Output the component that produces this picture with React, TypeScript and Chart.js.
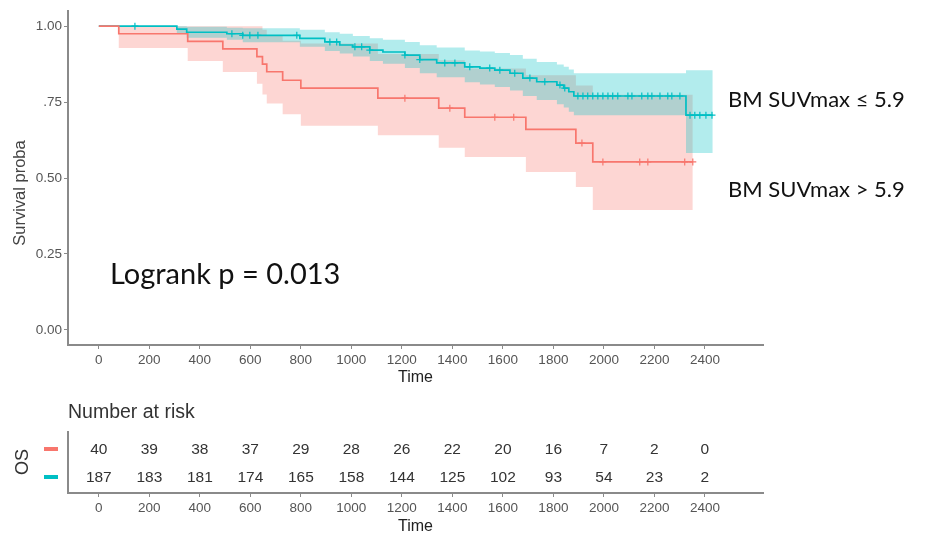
import React, { useEffect, useRef } from "react";
import { Chart, registerables } from "chart.js";
Chart.register(...registerables);

// ---------- data ----------
const xTicks = [0, 200, 400, 600, 800, 1000, 1200, 1400, 1600, 1800, 2000, 2200, 2400];
const yTickValues = [0, 0.25, 0.5, 0.75, 1];
const yTickLabels = ["0.00", "0.25", "0.50", ".75", "1.00"];

// BM SUVmax > 5.9 (red)
const redTimes = [0, 79, 352, 491, 626, 648, 665, 728, 800, 1105, 1346, 1449, 1691, 1889, 1956, 2352];
const redSurv = [1, 0.975, 0.95, 0.925, 0.9, 0.875, 0.85, 0.822, 0.796, 0.763, 0.73, 0.7, 0.66, 0.615, 0.553, 0.553];
const redLower = [1, 0.928, 0.885, 0.849, 0.81, 0.775, 0.745, 0.71, 0.672, 0.641, 0.6, 0.569, 0.52, 0.47, 0.395, 0.395];
const redUpper = [1, 1, 1, 1, 1, 0.988, 0.97, 0.952, 0.943, 0.908, 0.888, 0.861, 0.838, 0.805, 0.774, 0.774];
const redCensor = [1212, 1390, 1568, 1643, 1913, 1996, 2142, 2174, 2320, 2352];

// BM SUVmax <= 5.9 (cyan)
const cyanTimes = [0, 309, 348, 507, 570, 796, 895, 954, 1006, 1073, 1125, 1212, 1271, 1338, 1449, 1509, 1568, 1628, 1679, 1734, 1814, 1841, 1861, 1881, 2325, 2431];
const cyanSurv = [1, 0.99, 0.98, 0.975, 0.97, 0.96, 0.948, 0.938, 0.932, 0.921, 0.915, 0.905, 0.89, 0.879, 0.866, 0.862, 0.855, 0.845, 0.829, 0.817, 0.806, 0.796, 0.784, 0.77, 0.707, 0.707];
const cyanLower = [1, 0.975, 0.962, 0.955, 0.947, 0.932, 0.918, 0.91, 0.9, 0.885, 0.876, 0.862, 0.845, 0.832, 0.815, 0.808, 0.8, 0.788, 0.77, 0.757, 0.743, 0.732, 0.718, 0.707, 0.582, 0.582];
const cyanUpper = [1, 1, 0.998, 0.995, 0.993, 0.988, 0.98, 0.975, 0.968, 0.96, 0.955, 0.948, 0.937, 0.93, 0.92, 0.917, 0.912, 0.905, 0.893, 0.882, 0.874, 0.866, 0.857, 0.845, 0.855, 0.855];
const cyanCensor = [143, 527, 570, 598, 630, 784, 915, 942, 1014, 1041, 1073, 1212, 1271, 1370, 1410, 1469, 1548, 1588, 1647, 1707, 1766, 1826, 1845, 1897, 1917, 1936, 1956, 1976, 1996, 2016, 2035, 2055, 2095, 2111, 2150, 2174, 2190, 2222, 2253, 2269, 2301, 2341, 2360, 2380, 2404, 2428];

// Number at risk
const riskTimes = [0, 200, 400, 600, 800, 1000, 1200, 1400, 1600, 1800, 2000, 2200, 2400];
const redRisk = [40, 39, 38, 37, 29, 28, 26, 22, 20, 16, 7, 2, 0];
const cyanRisk = [187, 183, 181, 174, 165, 158, 144, 125, 102, 93, 54, 23, 2];

// ---------- style ----------
const RED = "#F8766D";
const CYAN = "#00BFC4";
const RED_FILL = "rgba(248,118,109,0.3)";
const CYAN_FILL = "rgba(0,191,196,0.3)";
const AXIS = "#8a8a8a";
const SANS = "'Liberation Sans', Arial, Helvetica, sans-serif";
const TICK_COLOR = "#555";
const ANNOT = "Lato, 'Open Sans', sans-serif";

const pts = (ts: number[], vs: number[]) => ts.map((t, i) => ({ x: t, y: vs[i] }));
const stepValueAt = (ts: number[], vs: number[], t: number) => {
  let v = vs[0];
  for (let i = 0; i < ts.length; i++) if (ts[i] <= t) v = vs[i];
  return v;
};

const xScaleBase = (height: number, titlePadBottom: number) => ({
  type: "linear" as const,
  min: -122,
  max: 2630,
  afterBuildTicks: (s: any) => {
    s.ticks = xTicks.map((v) => ({ value: v }));
  },
  afterFit: (s: any) => {
    s.height = height;
  },
  grid: { drawOnChartArea: false, drawTicks: true, tickLength: 4, color: AXIS, lineWidth: 1 },
  border: { display: true, color: AXIS, width: 2 },
  ticks: {
    font: { family: SANS, size: 13.5 },
    color: TICK_COLOR,
    padding: 3,
    maxRotation: 0,
    autoSkip: false,
    callback: (v: any) => String(v),
  },
  title: { display: true, text: "Time", font: { family: SANS, size: 16 }, color: "#222", padding: { top: 0, bottom: titlePadBottom } },
});

export default function App() {
  const topRef = useRef<HTMLCanvasElement>(null);
  const botRef = useRef<HTMLCanvasElement>(null);

  useEffect(() => {
    const line = (data: any, color: string) => ({
      data,
      borderColor: color,
      borderWidth: 1.7,
      stepped: true,
      pointRadius: 0,
      fill: false,
    });
    const band = (data: any, fill: any, bg: string) => ({
      data,
      borderWidth: 0,
      borderColor: "rgba(0,0,0,0)",
      stepped: true,
      pointRadius: 0,
      fill,
      backgroundColor: bg,
    });
    const censor = (times: number[], ts: number[], vs: number[], color: string) => ({
      data: times.map((t) => ({ x: t, y: stepValueAt(ts, vs, t) })),
      showLine: false,
      pointStyle: "cross",
      pointRadius: 3.5,
      pointBorderWidth: 1.2,
      pointBorderColor: color,
      borderColor: color,
      fill: false,
    });

    const top = new Chart(topRef.current as HTMLCanvasElement, {
      type: "line",
      data: {
        datasets: [
          line(pts(redTimes, redSurv), RED),
          line(pts(cyanTimes, cyanSurv), CYAN),
          censor(redCensor, redTimes, redSurv, RED),
          censor(cyanCensor, cyanTimes, cyanSurv, CYAN),
          band(pts(cyanTimes, cyanLower), false, CYAN_FILL),
          band(pts(cyanTimes, cyanUpper), "-1", CYAN_FILL),
          band(pts(redTimes, redLower), false, RED_FILL),
          band(pts(redTimes, redUpper), "-1", RED_FILL),
        ] as any,
      },
      options: {
        animation: false,
        responsive: false,
        maintainAspectRatio: false,
        events: [],
        layout: { padding: { left: 0, top: 11, right: 937 - 763, bottom: 0 } },
        plugins: { legend: { display: false }, tooltip: { enabled: false } },
        scales: {
          x: xScaleBase(45, 3) as any,
          y: {
            type: "linear",
            min: -0.05,
            max: 1.05,
            afterBuildTicks: (s: any) => {
              s.ticks = yTickValues.map((v) => ({ value: v }));
            },
            afterFit: (s: any) => {
              s.width = 68;
            },
            grid: { drawOnChartArea: false, drawTicks: true, tickLength: 4, color: AXIS, lineWidth: 1 },
            border: { display: true, color: AXIS, width: 2 },
            ticks: {
              font: { family: SANS, size: 13.5 },
              color: TICK_COLOR,
              padding: 2,
              callback: (v: any) => {
                const i = yTickValues.indexOf(Number(v));
                return i >= 0 ? yTickLabels[i] : "";
              },
            },
            title: { display: false },
          },
        },
      } as any,
    });

    const riskPlugin = {
      id: "riskText",
      afterDatasetsDraw(chart: any) {
        const ctx = chart.ctx;
        ctx.save();
        ctx.font = `15.5px ${SANS}`;
        ctx.textAlign = "center";
        ctx.textBaseline = "middle";
        chart.data.datasets.forEach((ds: any, di: number) => {
          const meta = chart.getDatasetMeta(di);
          ctx.fillStyle = "#333";
          meta.data.forEach((el: any, i: number) => {
            ctx.fillText(String(ds.data[i].n), el.x, el.y);
          });
          // legend dash for the row
          const yPix = chart.scales.y.getPixelForValue(ds.data[0].y);
          ctx.fillStyle = ds.rowColor;
          ctx.fillRect(44, yPix - 3, 14, 4);
        });
        ctx.restore();
      },
    };

    const bot = new Chart(botRef.current as HTMLCanvasElement, {
      type: "scatter",
      data: {
        datasets: [
          { data: riskTimes.map((t, i) => ({ x: t, y: 2, n: redRisk[i] })), pointRadius: 0, rowColor: RED },
          { data: riskTimes.map((t, i) => ({ x: t, y: 1, n: cyanRisk[i] })), pointRadius: 0, rowColor: CYAN },
        ] as any,
      },
      plugins: [riskPlugin],
      options: {
        animation: false,
        responsive: false,
        maintainAspectRatio: false,
        events: [],
        layout: { padding: { left: 0, top: 42, right: 937 - 763, bottom: 0 } },
        plugins: { legend: { display: false }, tooltip: { enabled: false } },
        scales: {
          x: xScaleBase(47, 4) as any,
          y: {
            type: "linear",
            min: 0.464,
            max: 2.643,
            afterFit: (s: any) => {
              s.width = 68;
            },
            grid: { display: true, drawOnChartArea: false, drawTicks: false },
            border: { display: true, color: AXIS, width: 2 },
            ticks: { display: false },
          },
        },
      } as any,
    });

    return () => {
      top.destroy();
      bot.destroy();
    };
  }, []);

  const label = (text: string, left: number, cy: number, style: any) => (
    <div
      style={{
        position: "absolute",
        left,
        top: cy,
        transform: "translateY(-50%)",
        whiteSpace: "nowrap",
        lineHeight: 1,
        ...style,
      }}
    >
      {text}
    </div>
  );

  const rotated = (text: string, cx: number, cy: number, style: any) => (
    <div
      style={{
        position: "absolute",
        left: cx,
        top: cy,
        transform: "translate(-50%, -50%) rotate(-90deg)",
        whiteSpace: "nowrap",
        lineHeight: 1,
        ...style,
      }}
    >
      {text}
    </div>
  );

  return (
    <div style={{ position: "fixed", left: 0, top: 0, width: 937, height: 534, background: "#fff", overflow: "hidden" }}>
      <canvas ref={topRef} width={937} height={390} style={{ position: "absolute", left: 0, top: 0, width: 937, height: 390 }} />
      <canvas ref={botRef} width={937} height={150} style={{ position: "absolute", left: 0, top: 390, width: 937, height: 150 }} />
      {rotated("Survival proba", 19, 193, { fontFamily: SANS, fontSize: 16.5, color: "#444" })}
      {label("Logrank p = 0.013", 110, 272, { fontFamily: ANNOT, fontSize: 29, color: "#111" })}
      {label("BM SUVmax ≤ 5.9", 728, 99, { fontFamily: ANNOT, fontSize: 22, color: "#111" })}
      {label("BM SUVmax > 5.9", 728, 189, { fontFamily: ANNOT, fontSize: 22, color: "#111" })}
      {label("Number at risk", 68, 412, { fontFamily: SANS, fontSize: 19.5, color: "#333" })}
      {rotated("OS", 22, 462, { fontFamily: SANS, fontSize: 18, color: "#333" })}
    </div>
  );
}
